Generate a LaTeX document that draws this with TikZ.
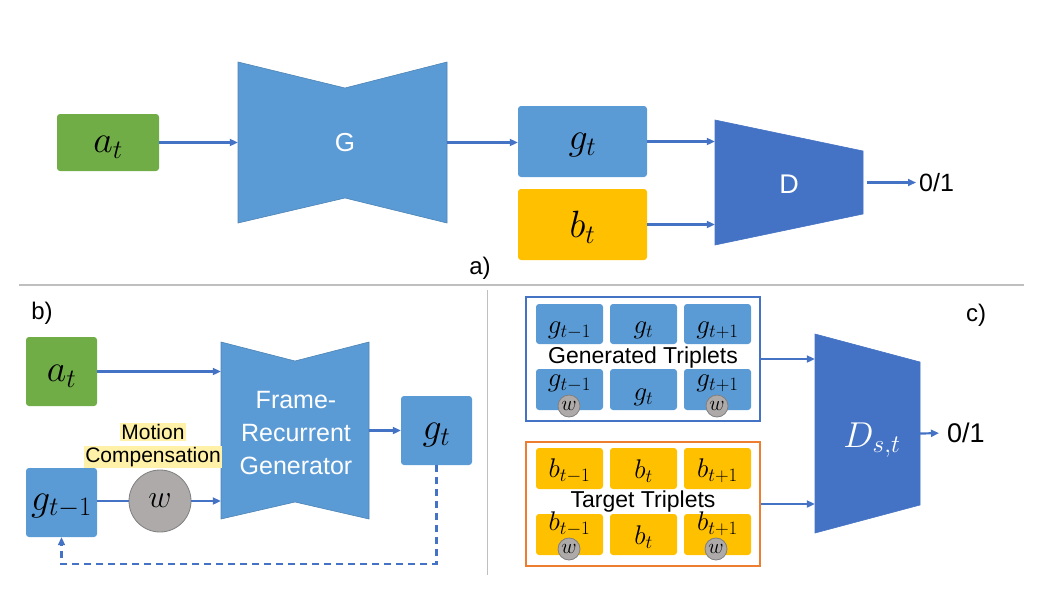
\RequirePackage{fix-cm}
\documentclass[tikz,border=0pt]{standalone}
\usepackage{fontspec}
\setmainfont{Liberation Sans}
\usetikzlibrary{arrows.meta,calc}
\definecolor{cgreen}{HTML}{70AD47}
\definecolor{cblue}{HTML}{5B9BD5}
\definecolor{cdark}{HTML}{4472C4}
\definecolor{cyell}{HTML}{FFC000}
\definecolor{corange}{HTML}{ED7D31}
\definecolor{cgray}{HTML}{AEAAAA}
\definecolor{cgrayd}{HTML}{7F7F7F}
\definecolor{chigh}{HTML}{FFF2A8}
\definecolor{csep}{HTML}{BFBFBF}
\begin{document}
\begin{tikzpicture}[x=1pt,y=-1pt,
  arr/.style={draw=cdark, line width=2.2pt, -{Triangle[length=8pt,width=7pt]}},
  plain/.style={draw=cdark, line width=2.2pt},
  box/.style={rounded corners=3pt, inner sep=0pt},
  area/.style={inner sep=0pt},
  shapeblue/.style={fill=cblue, draw=cblue!85!black, line width=0.6pt},
  shapedark/.style={fill=cdark, draw=cdark, line width=0.6pt},
  mathB/.style={inner sep=0pt, font=\fontsize{38}{44}\selectfont},
  mathS/.style={inner sep=0pt, font=\fontsize{27}{31}\selectfont},
  lbl/.style={inner sep=0pt, font=\fontsize{24}{28}\selectfont},
  wht/.style={inner sep=0pt, text=white, font=\fontsize{25}{30}\selectfont, align=center},
  wsmall/.style={circle, fill=cgray, draw=cgrayd, line width=0.8pt, minimum size=22pt, inner sep=0pt, font=\fontsize{21}{22}\selectfont},
]
\useasboundingbox (0,0) rectangle (1064,602);

% separators
\draw[csep, line width=1.2pt] (19,285) -- (1024,285);
\draw[csep, line width=1pt] (487,290) -- (487,575);

% ===== a) =====
\node[box, fill=cgreen, minimum width=102pt, minimum height=57pt] (at1) at (108,142.5) {};
\node[mathB] (at1t) at (108,147) {$a_t$};
\fill[shapeblue] (238,62) -- (345,88) -- (447,62) -- (447,223) -- (345,198) -- (238,223) -- cycle;
\node[area, minimum width=209pt, minimum height=161pt] (G) at (342.5,142.5) {};
\node[wht, font=\fontsize{26}{30}\selectfont] (Gt) at (345,143) {G};
\node[box, fill=cblue, minimum width=129pt, minimum height=71pt] (gt1) at (582.5,141.5) {};
\node[mathB] (gt1t) at (582.5,145) {$g_t$};
\node[box, fill=cyell, minimum width=129pt, minimum height=71pt] (bt1) at (582.5,224.5) {};
\node[mathB] (bt1t) at (582.5,227) {$b_t$};
\fill[shapedark] (715,120) -- (863,151) -- (863,214) -- (715,245) -- cycle;
\node[area, minimum width=148pt, minimum height=125pt] (D1) at (789,182.5) {};
\node[wht, font=\fontsize{27}{30}\selectfont] (D1t) at (789,184) {D};
\node[lbl, anchor=west, font=\fontsize{25}{30}\selectfont] (out1) at (919,182.5) {0/1};
\node[lbl] (la) at (480,268) {a)};

\draw[arr] (at1.east) -- (at1.east -| G.west);
\draw[arr] (G.east) -- (G.east -| gt1.west);
\draw[arr] (gt1.east) -- (gt1.east -| D1.west);
\draw[arr] (bt1.east) -- (bt1.east -| D1.west);
\draw[arr, shorten <=4pt, shorten >=3pt] (D1.east) -- (out1.west);

% ===== b) =====
\node[lbl] (lb) at (42,313) {b)};
\node[box, fill=cgreen, minimum width=71pt, minimum height=69pt] (at2) at (61.5,371.5) {};
\node[mathB] (at2t) at (61.5,376) {$a_t$};
\fill[shapeblue] (221,342) -- (295,361) -- (369,342) -- (369,519) -- (295,502) -- (221,519) -- cycle;
\node[area, minimum width=148pt, minimum height=177pt] (Gen) at (295,430.5) {};
\node[wht] (Gent) at (296,433) {Frame-\\[3pt]Recurrent\\[3pt]Generator};
\node[box, fill=cblue, minimum width=71pt, minimum height=69pt] (gt2) at (436.5,430.5) {};
\node[mathB] (gt2t) at (436.5,435) {$g_t$};
\node[box, fill=cblue, minimum width=71pt, minimum height=69pt] (gm2) at (61.5,502.5) {};
\node[mathB] (gm2t) at (61.5,506) {$g_{t-1}$};
\node[circle, fill=cgray, draw=cgrayd, line width=0.8pt, minimum size=62pt, inner sep=0pt, font=\fontsize{32}{34}\selectfont] (w) at (160,501) {$w$};
\node[inner sep=1pt, fill=chigh, font=\fontsize{21}{24}\selectfont] (mot) at (153,432) {Motion};
\node[inner sep=1pt, fill=chigh, font=\fontsize{21}{24}\selectfont] (comp) at (153,457) {Compensation};

\draw[arr] (at2.east) -- (at2.east -| Gen.west);
\draw[plain] (gm2.east |- w.west) -- (w.west);
\draw[arr] (w.east) -- (w.east -| Gen.west);
\draw[arr] (Gen.east) -- (gt2.west);
\coordinate (loop) at (61.5,564);
\draw[arr, dashed, dash pattern=on 7pt off 5pt] (gt2.south) |- (loop) -- (gm2.south);

% ===== c) =====
\node[lbl] (lc) at (976,315) {c)};
\node[area, draw=cdark, line width=1.4pt, minimum width=234pt, minimum height=124pt] (genF) at (643,359) {};
\node[area, draw=corange, line width=1.4pt, minimum width=234pt, minimum height=124pt] (tarF) at (643,504) {};

% generated boxes
\node[box, fill=cblue, minimum width=67pt, minimum height=40pt] (ga1) at (569.5,324) {};
\node[box, fill=cblue, minimum width=67pt, minimum height=40pt] (ga2) at (643.5,324) {};
\node[box, fill=cblue, minimum width=67pt, minimum height=40pt] (ga3) at (717.5,324) {};
\node[box, fill=cblue, minimum width=67pt, minimum height=41pt] (gb1) at (569.5,389.5) {};
\node[box, fill=cblue, minimum width=67pt, minimum height=41pt] (gb2) at (643.5,389.5) {};
\node[box, fill=cblue, minimum width=67pt, minimum height=41pt] (gb3) at (717.5,389.5) {};
\node[mathS] (ga1t) at (569.5,330) {$g_{t-1}$};
\node[mathS] (ga2t) at (643.5,330) {$g_t$};
\node[mathS] (ga3t) at (717.5,330) {$g_{t+1}$};
\node[mathS] (gb1t) at (569.5,383) {$g_{t-1}$};
\node[mathS] (gb2t) at (643.5,397) {$g_t$};
\node[mathS] (gb3t) at (717.5,383) {$g_{t+1}$};
\node[wsmall] (gw1) at (569,406) {$w$};
\node[wsmall] (gw3) at (717,406) {$w$};
\node[inner sep=0pt, font=\fontsize{23}{26}\selectfont] (genL) at (643,358) {Generated Triplets};

% target boxes
\node[box, fill=cyell, minimum width=67pt, minimum height=41pt] (ba1) at (569.5,468.5) {};
\node[box, fill=cyell, minimum width=67pt, minimum height=41pt] (ba2) at (643.5,468.5) {};
\node[box, fill=cyell, minimum width=67pt, minimum height=41pt] (ba3) at (717.5,468.5) {};
\node[box, fill=cyell, minimum width=67pt, minimum height=41pt] (bb1) at (569.5,534.5) {};
\node[box, fill=cyell, minimum width=67pt, minimum height=41pt] (bb2) at (643.5,534.5) {};
\node[box, fill=cyell, minimum width=67pt, minimum height=41pt] (bb3) at (717.5,534.5) {};
\node[mathS] (ba1t) at (569.5,471) {$b_{t-1}$};
\node[mathS] (ba2t) at (643.5,471) {$b_t$};
\node[mathS] (ba3t) at (717.5,471) {$b_{t+1}$};
\node[mathS] (bb1t) at (569.5,524) {$b_{t-1}$};
\node[mathS] (bb2t) at (643.5,537) {$b_t$};
\node[mathS] (bb3t) at (717.5,524) {$b_{t+1}$};
\node[wsmall] (bw1) at (569,549) {$w$};
\node[wsmall] (bw3) at (716,549) {$w$};
\node[inner sep=0pt, font=\fontsize{23}{26}\selectfont] (tarL) at (643,502) {Target Triplets};

\fill[shapedark] (815,334) -- (920,362) -- (920,505) -- (815,533) -- cycle;
\node[area, minimum width=105pt, minimum height=199pt] (Ds) at (867.5,433.5) {};
\node[inner sep=0pt, text=white, font=\fontsize{36}{40}\selectfont] (Dst) at (872,440) {$D_{s,t}$};
\node[lbl, anchor=west, font=\fontsize{27}{30}\selectfont] (out2) at (947,433) {0/1};

\draw[arr] (genF.east) -- (genF.east -| Ds.west);
\draw[arr] (tarF.east) -- (tarF.east -| Ds.west);
\draw[arr, shorten >=8pt] (Ds.east) -- (out2.west);
\end{tikzpicture}
\end{document}
